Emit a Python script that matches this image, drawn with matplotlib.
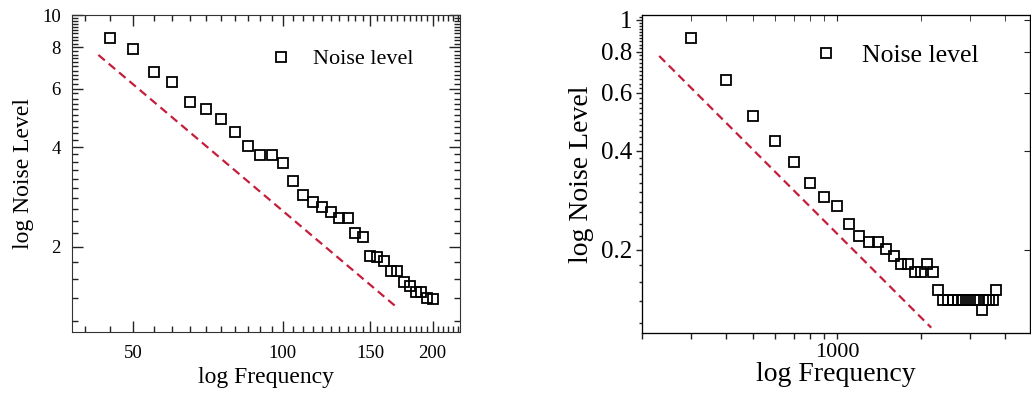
import matplotlib
matplotlib.use('Agg')
from matplotlib import pyplot as plt
from matplotlib.ticker import MultipleLocator, NullFormatter, FixedLocator, LogLocator

plt.rcParams['font.family'] = ['Liberation Serif', 'DejaVu Serif']

# left panel: frequency 45..200, noise level
freq_left = [45, 50, 55, 60, 65, 70, 75, 80, 85, 90, 95, 100, 105, 110, 115, 120,
             125, 130, 135, 140, 145, 150, 155, 160, 165, 170, 175, 180, 185, 190, 195, 200]
noise_left = [8.54, 7.90, 6.75, 6.27, 5.48, 5.21, 4.85, 4.45, 4.03, 3.78, 3.78, 3.57,
              3.15, 2.87, 2.74, 2.63, 2.54, 2.44, 2.45, 2.20, 2.14, 1.88, 1.86, 1.82,
              1.69, 1.69, 1.57, 1.52, 1.46, 1.46, 1.40, 1.39]
# dashed reference line (end points)
fit_left_x = [42.6, 169]
fit_left_y = [7.58, 1.32]

# right panel
freq_right = [300, 400, 500, 600, 700, 800, 900, 1000, 1100, 1200, 1300, 1400, 1500,
              1600, 1700, 1800, 1900, 2000, 2100, 2200, 2300, 2400, 2500, 2600, 2700,
              2800, 2900, 3000, 3100, 3200, 3300, 3400, 3500, 3600, 3700]
noise_right = [0.883, 0.656, 0.510, 0.429, 0.370, 0.319, 0.289, 0.271, 0.240, 0.221,
               0.211, 0.211, 0.2015, 0.191, 0.181, 0.181, 0.171, 0.171, 0.181, 0.171,
               0.151, 0.141, 0.141, 0.141, 0.141, 0.141, 0.141, 0.141, 0.141, 0.141,
               0.131, 0.141, 0.141, 0.141, 0.151]
fit_right_x = [231, 2172]
fit_right_y = [0.777, 0.116]

red = '#c41e3a'

fig = plt.figure(figsize=(10.31, 3.98), dpi=100)

# ---------- left panel ----------
ax1 = fig.add_axes([0.0698, 0.1658, 0.3763, 0.7965])
ax1.plot(freq_left, noise_left, 's', ms=7, mfc='none', mec='black', mew=1.3,
         label='Noise level')
ax1.plot(fit_left_x, fit_left_y, color=red, lw=1.6, dashes=(3.8, 2.3))
ax1.set_xscale('log')
ax1.set_yscale('log')
ax1.set_xlim(37.7, 227)
ax1.set_ylim(1.108, 10)
ax1.xaxis.set_major_locator(FixedLocator([50, 100, 150, 200]))
ax1.xaxis.set_major_formatter(lambda v, p: '%d' % v)
ax1.xaxis.set_minor_locator(MultipleLocator(5))
ax1.xaxis.set_minor_formatter(NullFormatter())
ax1.yaxis.set_major_locator(FixedLocator([2, 4, 6, 8, 10]))
ax1.yaxis.set_major_formatter(lambda v, p: '%d' % v)
ax1.yaxis.set_minor_locator(MultipleLocator(0.2))
ax1.yaxis.set_minor_formatter(NullFormatter())
ax1.tick_params(which='both', direction='in', top=True, right=True, width=1.0,
                color='#222222', labelsize=13.5)
ax1.tick_params(which='major', length=8)
ax1.tick_params(which='minor', length=4)
ax1.tick_params(axis='x', pad=9)
ax1.tick_params(axis='y', pad=8)
ax1.set_xlabel('log Frequency', fontsize=17, labelpad=4)
ax1.set_ylabel('log Noise Level', fontsize=17, labelpad=6)
for s in ax1.spines.values():
    s.set_color('#333333')
ax1.legend(loc='center left', bbox_to_anchor=(0.51, 0.861), frameon=False,
           fontsize=16, handlelength=1.0, handletextpad=0.95, borderpad=0,
           borderaxespad=0)

# ---------- right panel ----------
ax2 = fig.add_axes([0.6224, 0.1641, 0.3766, 0.7982])
ax2.plot(freq_right, noise_right, 's', ms=7.5, mfc='none', mec='black', mew=1.3,
         label='Noise level')
ax2.plot(fit_right_x, fit_right_y, color=red, lw=1.6, dashes=(3.8, 2.3))
ax2.set_xscale('log')
ax2.set_yscale('log')
ax2.set_xlim(200, 4900)
ax2.set_ylim(0.112, 1.035)
ax2.xaxis.set_major_locator(FixedLocator([1000]))
ax2.xaxis.set_major_formatter(lambda v, p: '%d' % v)
ax2.xaxis.set_minor_locator(LogLocator(base=10, subs=range(2, 10)))
ax2.xaxis.set_minor_formatter(NullFormatter())
ax2.yaxis.set_major_locator(FixedLocator([0.2, 0.4, 0.6, 0.8, 1.0]))
ax2.yaxis.set_major_formatter(lambda v, p: '1' if v == 1.0 else '%.1f' % v)
ax2.yaxis.set_minor_locator(MultipleLocator(0.02))
ax2.yaxis.set_minor_formatter(NullFormatter())
ax2.tick_params(which='both', direction='out', width=1.0, color='#222222')
ax2.tick_params(which='major', length=4.5)
ax2.tick_params(which='minor', length=2.5)
ax2.tick_params(axis='x', which='minor', length=4.5)
ax2.tick_params(axis='x', labelsize=16, pad=3)
ax2.tick_params(axis='y', labelsize=18, pad=2)
ax2.set_xlabel('log Frequency', fontsize=20, labelpad=0)
ax2.set_ylabel('log Noise Level', fontsize=20, labelpad=5)
for s in ax2.spines.values():
    s.set_color('#333333')
ax2.legend(loc='center left', bbox_to_anchor=(0.4406, 0.871), frameon=False,
           fontsize=18.5, handlelength=1.0, handletextpad=0.9, borderpad=0,
           borderaxespad=0)

# inward ticks on top and right of the right panel
top = ax2.twiny()
top.set_xscale('log')
top.set_xlim(ax2.get_xlim())
top.xaxis.set_major_locator(FixedLocator([1000]))
top.xaxis.set_minor_locator(LogLocator(base=10, subs=range(2, 10)))
top.xaxis.set_major_formatter(NullFormatter())
top.xaxis.set_minor_formatter(NullFormatter())
top.tick_params(which='both', direction='in', length=4.5, labeltop=False,
                color='#222222')
right = ax2.twinx()
right.set_yscale('log')
right.set_ylim(ax2.get_ylim())
right.yaxis.set_major_locator(FixedLocator([0.2, 0.4, 0.6, 0.8, 1.0]))
right.yaxis.set_minor_locator(FixedLocator([]))
right.yaxis.set_major_formatter(NullFormatter())
right.yaxis.set_minor_formatter(NullFormatter())
right.tick_params(which='both', direction='in', length=4.5, labelright=False,
                  color='#222222')

fig.savefig('out.png', dpi=100)
